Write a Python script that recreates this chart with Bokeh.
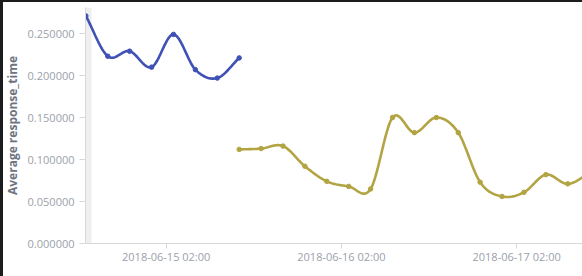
import numpy as np
import pandas as pd
from bokeh.plotting import figure
from bokeh.models import (Range1d, FixedTicker, DatetimeTickFormatter, BoxAnnotation,
                          PrintfTickFormatter, InlineStyleSheet)
from bokeh.embed import file_html
from bokeh.resources import INLINE

# ---------------- data ----------------
blue_times = ["2018-06-14 15:00", "2018-06-14 18:00", "2018-06-14 21:00", "2018-06-15 00:00",
              "2018-06-15 03:00", "2018-06-15 06:00", "2018-06-15 09:00", "2018-06-15 12:00"]
blue_values = [0.271, 0.223, 0.229, 0.210, 0.249, 0.207, 0.197, 0.221]

olive_times = ["2018-06-15 12:00", "2018-06-15 15:00", "2018-06-15 18:00", "2018-06-15 21:00",
               "2018-06-16 00:00", "2018-06-16 03:00", "2018-06-16 06:00", "2018-06-16 09:00",
               "2018-06-16 12:00", "2018-06-16 15:00", "2018-06-16 18:00", "2018-06-16 21:00",
               "2018-06-17 00:00", "2018-06-17 03:00", "2018-06-17 06:00", "2018-06-17 09:00",
               "2018-06-17 12:00"]
olive_values = [0.112, 0.113, 0.116, 0.092, 0.074, 0.068, 0.065, 0.150,
                0.132, 0.150, 0.132, 0.073, 0.056, 0.061, 0.082, 0.071, 0.084]

x_tick_times = ["2018-06-15 02:00", "2018-06-16 02:00", "2018-06-17 02:00"]
y_ticks = [0.0, 0.05, 0.10, 0.15, 0.20, 0.25]
y_title = "Average response_time"

x_start, x_end = "2018-06-14 14:57", "2018-06-17 11:01"
y_start, y_end = 0.0, 0.281

BLUE = "#3f51b5"
OLIVE = "#b3a443"


def to_ms(lst):
    return pd.to_datetime(lst).values.astype("datetime64[ms]").astype("int64").astype(float)


def smooth(t, y, n=24):
    """Catmull-Rom curve through the points (display only)."""
    t = np.asarray(t, float)
    y = np.asarray(y, float)
    m = np.empty_like(y)
    m[1:-1] = (y[2:] - y[:-2]) / 2.0
    m[0] = y[1] - y[0]
    m[-1] = y[-1] - y[-2]
    xs, ys = [], []
    for i in range(len(y) - 1):
        s = np.linspace(0, 1, n, endpoint=(i == len(y) - 2))
        h00 = 2 * s**3 - 3 * s**2 + 1
        h10 = s**3 - 2 * s**2 + s
        h01 = -2 * s**3 + 3 * s**2
        h11 = s**3 - s**2
        ys.append(h00 * y[i] + h10 * m[i] + h01 * y[i + 1] + h11 * m[i + 1])
        xs.append(t[i] + s * (t[i + 1] - t[i]))
    return np.concatenate(xs), np.concatenate(ys)


bt = to_ms(blue_times)
ot = to_ms(olive_times)
xs0 = to_ms([x_start])[0]
xe0 = to_ms([x_end])[0]

p = figure(frame_width=497, frame_height=236,
           x_axis_type="datetime",
           x_range=Range1d(xs0, xe0), y_range=Range1d(y_start, y_end),
           output_backend="svg", toolbar_location=None,
           min_border_left=85, min_border_right=0, min_border_top=7, min_border_bottom=33,
           background_fill_color="white", border_fill_color="white")
p.outline_line_color = None
p.grid.visible = False

# light grey band next to the y axis
p.add_layout(BoxAnnotation(left=xs0, right=xs0 + 50 * 60 * 1000, fill_color="#efefef",
                           fill_alpha=1, line_alpha=0, level="underlay"))

for t, v, c in [(bt, blue_values, BLUE), (ot, olive_values, OLIVE)]:
    sx, sy = smooth(t, v)
    p.line(sx, sy, line_color=c, line_width=2.6)
    p.scatter(t, v, size=4.5, color=c)

AX = "#d8d8d8"
LBL = "#9ba1aa"

p.xaxis.ticker = FixedTicker(ticks=list(to_ms(x_tick_times)))
fmt = "%Y-%m-%d %H:%M"
p.xaxis.formatter = DatetimeTickFormatter(milliseconds=fmt, seconds=fmt, minsec=fmt, minutes=fmt,
                                          hourmin=fmt, hours=fmt, days=fmt, months=fmt, years=fmt)
p.yaxis.ticker = FixedTicker(ticks=y_ticks)
p.yaxis.formatter = PrintfTickFormatter(format="%.6f")

for ax in (p.xaxis[0], p.yaxis[0]):
    ax.axis_line_color = AX
    ax.major_tick_line_color = AX
    ax.minor_tick_line_color = None
    ax.major_tick_in = 0
    ax.major_label_text_font = "Open Sans"
    ax.major_label_text_font_size = "11px"
    ax.major_label_text_color = LBL

p.xaxis.major_tick_out = 5
p.xaxis.major_label_standoff = 0
p.yaxis.major_tick_out = 6
p.yaxis.major_label_standoff = 5

p.yaxis.axis_label = y_title
p.yaxis.axis_label_text_font = "Open Sans"
p.yaxis.axis_label_text_font_style = "bold"
p.yaxis.axis_label_text_font_size = "12px"
p.yaxis.axis_label_text_color = "#6d7380"
p.yaxis.axis_label_standoff = 4

# dark window edges (top and left), drawn over the canvas
p.stylesheets = [InlineStyleSheet(css="""
:host { position: relative; }
:host::before { content: ''; position: absolute; left: 0; top: 0; width: 3px; height: 100%;
                background: #1c1c1c; z-index: 100; }
:host::after { content: ''; position: absolute; left: 0; top: 0; width: 100%; height: 2px;
               background: #1c1c1c; z-index: 100; }
""")]

open("out.html", "w").write(file_html(p, INLINE))
